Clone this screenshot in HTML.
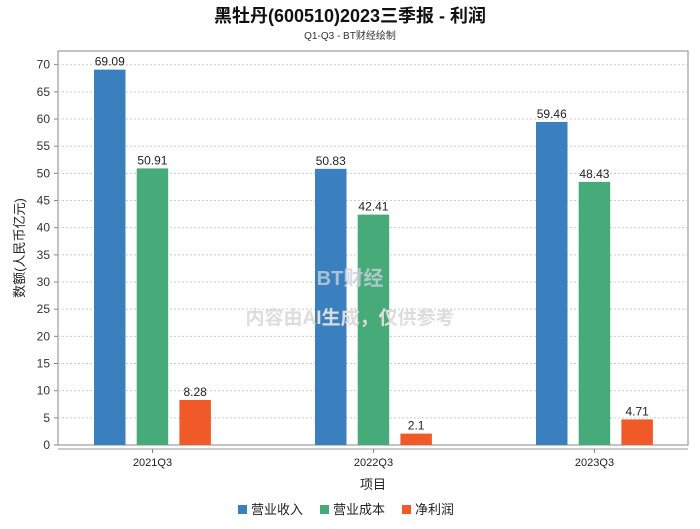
<!DOCTYPE html>
<html><head><meta charset="utf-8">
<style>
body{margin:0;background:#fff;font-family:"Liberation Sans","Noto Sans CJK SC",sans-serif;}
svg text{font-family:"Liberation Sans","Noto Sans CJK SC",sans-serif;}
</style></head>
<body>
<svg id="c" width="700" height="524" xmlns="http://www.w3.org/2000/svg">
<text x="350" y="22" text-anchor="middle" font-size="18" font-weight="bold" fill="#111">黑牡丹(600510)2023三季报 - 利润</text>
<text x="350" y="39" text-anchor="middle" font-size="10" fill="#333">Q1-Q3 - BT财经绘制</text>
<rect x="58" y="51" width="630" height="394" fill="none" stroke="#888"/>
<g id="grid"></g>
<line x1="58" y1="449" x2="688" y2="449" stroke="#999"/>
<g id="bars"></g>
<text x="350" y="285" text-anchor="middle" font-size="20" font-weight="bold" fill="#c8d0dc" opacity="0.8">BT财经</text>
<text x="350" y="324" text-anchor="middle" font-size="19" font-weight="bold" fill="#ddd">内容由AI生成，仅供参考</text>
<text x="24" y="248" text-anchor="middle" font-size="13" fill="#222" transform="rotate(-90 24 248)">数额(人民币亿元)</text>
<text x="373" y="489" text-anchor="middle" font-size="13" fill="#222">项目</text>
<g id="legend"></g>
</svg>
<script>
const categories=["2021Q3","2022Q3","2023Q3"];
const seriesNames=["营业收入","营业成本","净利润"];
const revenue=[69.09,50.83,59.46];
const cost=[50.91,42.41,48.43];
const profit=[8.28,2.1,4.71];
const yTicks=[0,5,10,15,20,25,30,35,40,45,50,55,60,65,70];
const colors=["#3a80be","#47aa79","#f05a28"];
const NS="http://www.w3.org/2000/svg";
const svg=document.getElementById('c');
function y(v){return 445-v*5.433;}
function xc(i){return 152.5+i*221;}
function mk(t,a,p){const e=document.createElementNS(NS,t);for(const k in a)e.setAttribute(k,a[k]);(p||svg).appendChild(e);return e;}
const grid=document.getElementById('grid');
yTicks.forEach(v=>{
  if(v>0){const l=mk('line',{x1:58,x2:688,y1:y(v),y2:y(v),stroke:'#ccc','stroke-dasharray':'2,2'},grid);
  
  }
  const tk=mk('line',{x1:54,x2:58,y1:y(v),y2:y(v),stroke:'#888'},grid);
  
  
  const t=mk('text',{x:50,y:y(v)+4,'text-anchor':'end','font-size':12,fill:'#333'},grid);
  t.textContent=v;
  
  
});
const bars=document.getElementById('bars');
const series=[revenue,cost,profit];
categories.forEach((c,i)=>{
  series.forEach((s,j)=>{
    const x0=xc(i)-58.5+j*42.7;
    const r=mk('rect',{x:x0,y:y(s[i]),width:31.5,height:445-y(s[i]),fill:colors[j]},bars);
    
    
    const t=mk('text',{x:x0+15.75,y:y(s[i])-4,'text-anchor':'middle','font-size':12,fill:'#222'},bars);
    t.textContent=s[i];
    
    
  });
  const tk=mk('line',{x1:xc(i),x2:xc(i),y1:449,y2:453,stroke:'#888'},bars);
  
  
  const t=mk('text',{x:xc(i),y:466,'text-anchor':'middle','font-size':11,fill:'#222'},bars);
  t.textContent=c;
  
  
});
const lg=document.getElementById('legend');
const lx=[238,320,402];
seriesNames.forEach((n,j)=>{
  const r=mk('rect',{x:lx[j],y:505,width:9,height:9,fill:colors[j]},lg);
  
  
  const t=mk('text',{x:lx[j]+13,y:514,'font-size':13,fill:'#222'},lg);
  t.textContent=n;
  
  
});
</script>
</body></html>
